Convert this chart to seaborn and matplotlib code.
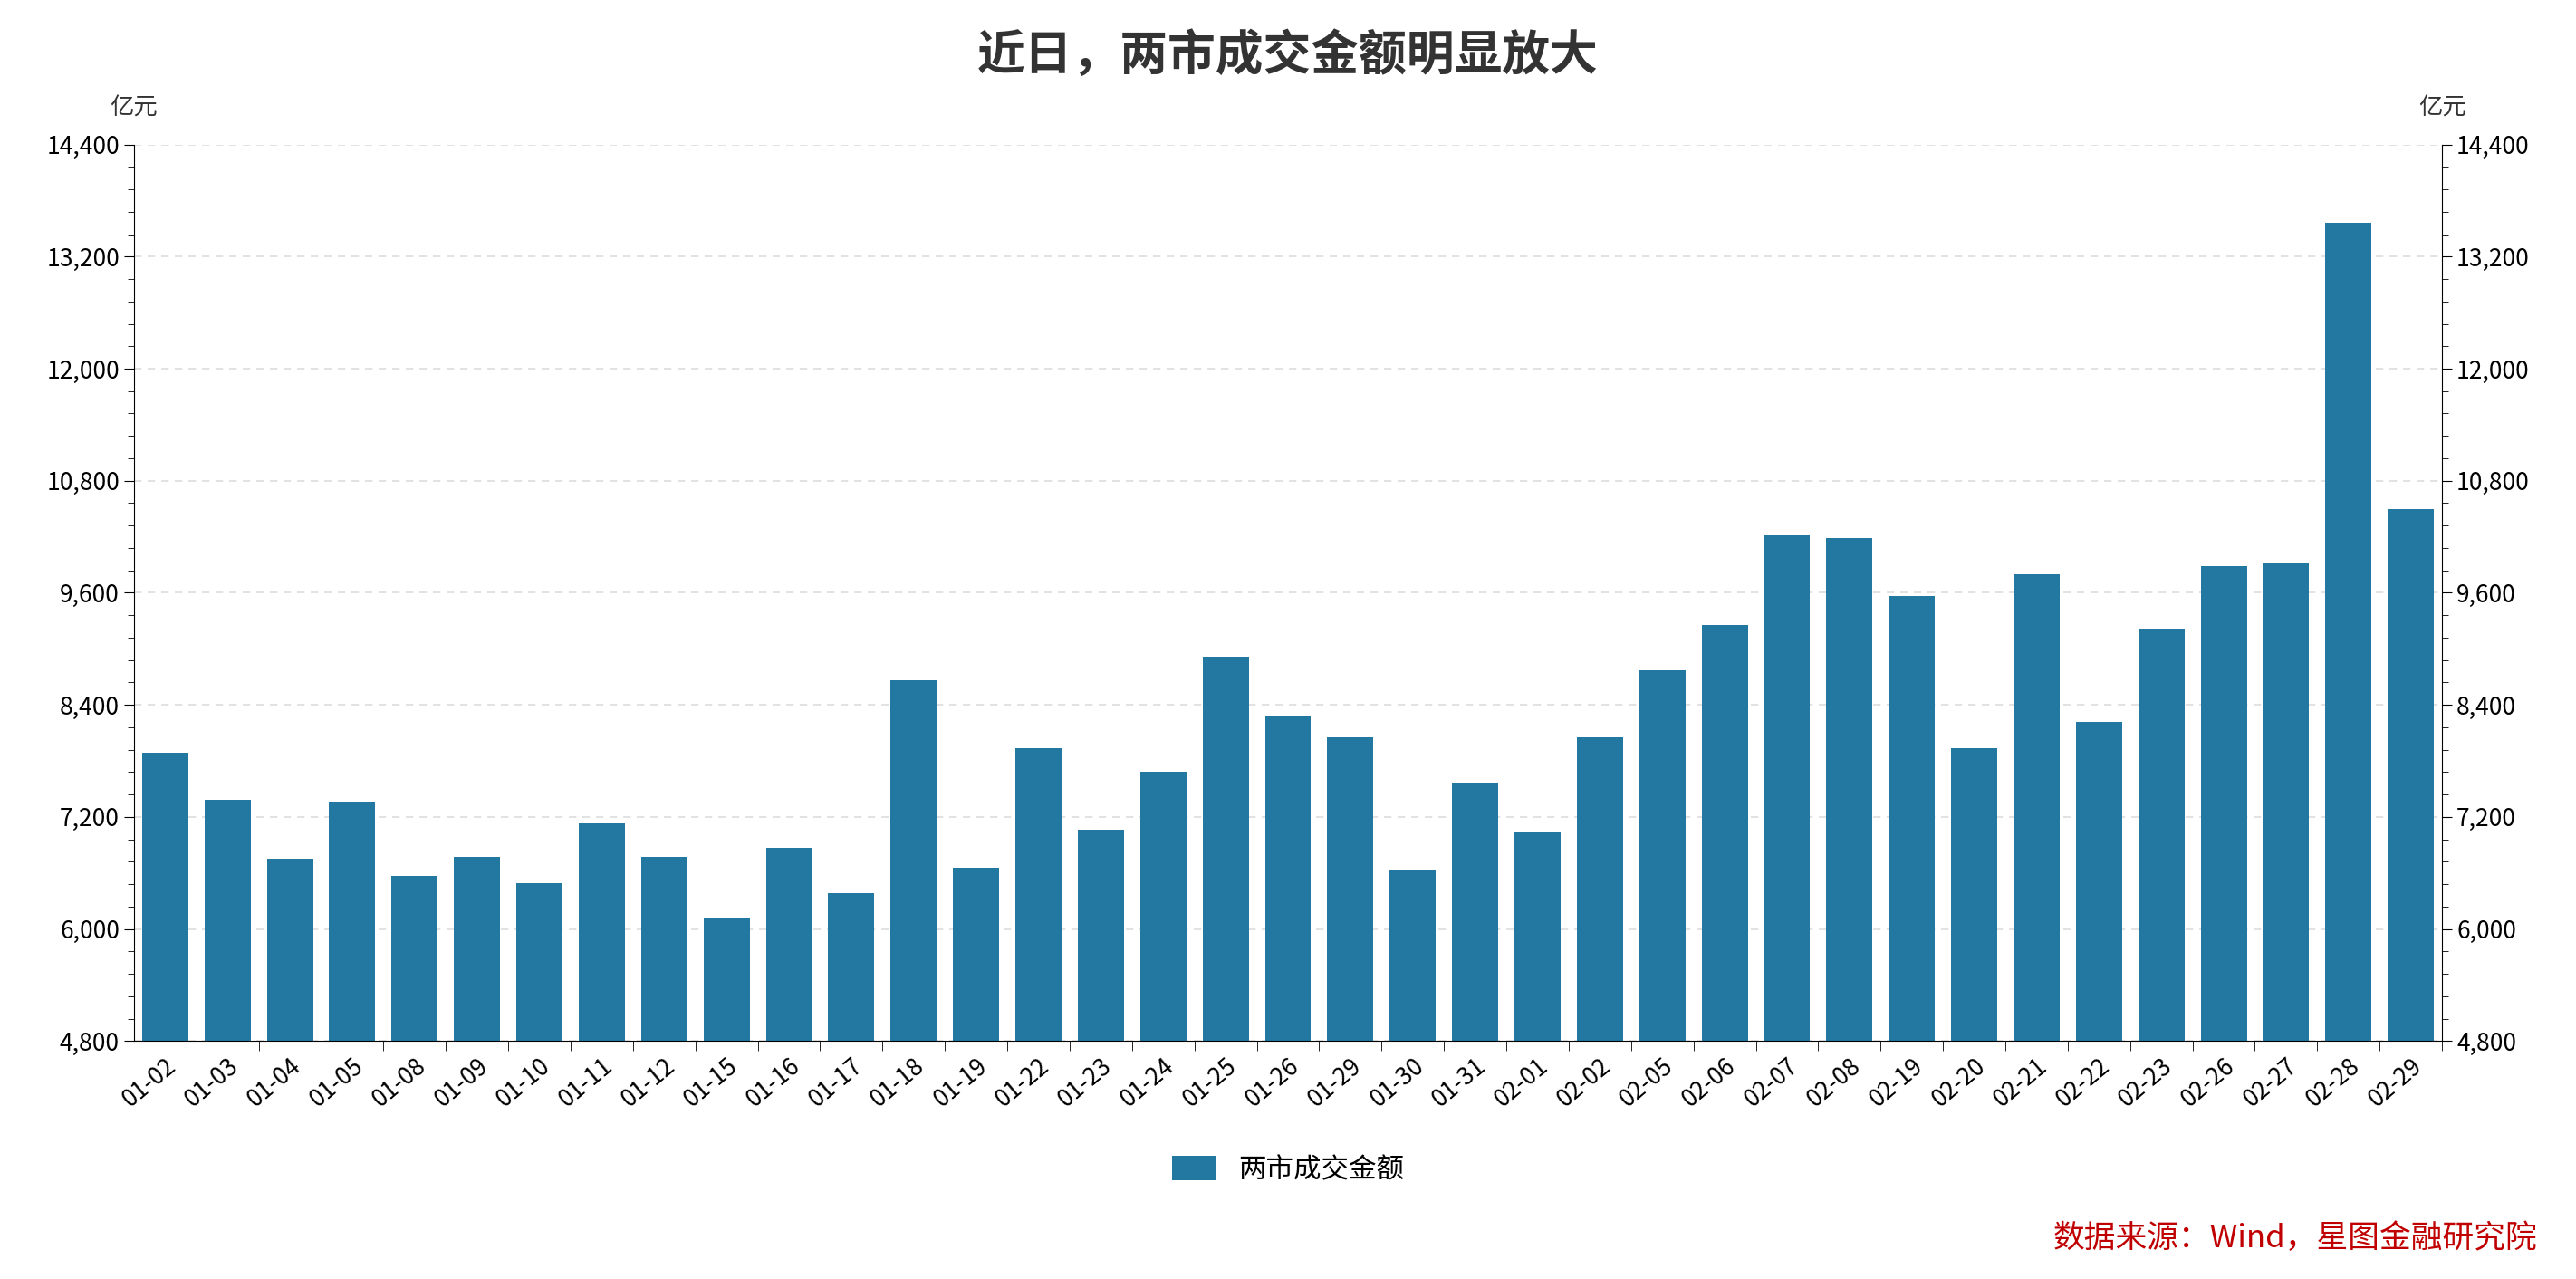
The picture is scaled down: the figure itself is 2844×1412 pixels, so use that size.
import matplotlib
matplotlib.use("Agg")
import matplotlib.pyplot as plt
from matplotlib.ticker import MultipleLocator, FuncFormatter
import seaborn as sns
import pandas as pd

plt.rcParams["font.family"] = ["Noto Sans CJK SC", "DejaVu Sans"]

dates = ["01-02", "01-03", "01-04", "01-05", "01-08", "01-09", "01-10", "01-11", "01-12",
         "01-15", "01-16", "01-17", "01-18", "01-19", "01-22", "01-23", "01-24", "01-25",
         "01-26", "01-29", "01-30", "01-31", "02-01", "02-02", "02-05", "02-06", "02-07",
         "02-08", "02-19", "02-20", "02-21", "02-22", "02-23", "02-26", "02-27", "02-28", "02-29"]
turnover = [7890, 7380, 6750, 7360, 6570, 6770, 6490, 7130, 6770,
            6120, 6870, 6380, 8660, 6660, 7940, 7060, 7680, 8920,
            8290, 8050, 6640, 7570, 7030, 8050, 8770, 9260, 10220,
            10190, 9570, 7940, 9800, 8220, 9220, 9890, 9920, 13560, 10500]
series_name = "两市成交金额"

df = pd.DataFrame({"date": dates, "value": turnover})
color = "#2278a0"

fig = plt.figure(figsize=(28.44, 14.12), dpi=100)
ax = fig.add_axes([0.052, 0.186, 0.896, 0.701])
sns.barplot(data=df, x="date", y="value", color=color, saturation=1, width=0.74,
            ax=ax, label=series_name)

ax.set_ylim(4800, 14400)
ax.set_xlim(-0.5, len(dates) - 0.5)
ax.yaxis.set_major_locator(MultipleLocator(1200))
ax.yaxis.set_minor_locator(MultipleLocator(240))
fmt = FuncFormatter(lambda v, p: f"{int(v):,}")
ax.yaxis.set_major_formatter(fmt)
ax.grid(axis="y", linestyle=(0, (5, 4)), color="#dddddd", linewidth=1.2)
ax.set_axisbelow(True)
for s in ["top", "right"]:
    ax.spines[s].set_visible(False)
ax.set_xlabel("")
ax.set_ylabel("")
ax.set_xticks([i + 0.5 for i in range(len(dates))], minor=True)
ax.set_xticks(range(len(dates)))
ax.set_xticklabels(dates, rotation=40, ha="right", rotation_mode="anchor", fontsize=19)
ax.tick_params(axis="x", which="major", length=0, pad=10)
ax.tick_params(axis="x", which="minor", length=8)
ax.tick_params(axis="y", which="major", labelsize=19, length=8)
ax.tick_params(axis="y", which="minor", length=5)

ax2 = ax.twinx()
ax2.set_ylim(4800, 14400)
ax2.yaxis.set_major_locator(MultipleLocator(1200))
ax2.yaxis.set_minor_locator(MultipleLocator(240))
ax2.yaxis.set_major_formatter(fmt)
ax2.tick_params(axis="y", which="major", labelsize=19, length=8)
ax2.tick_params(axis="y", which="minor", length=5)
for s in ["top", "left", "bottom"]:
    ax2.spines[s].set_visible(False)

fig.text(0.052, 0.91, "亿元", ha="center", fontsize=19, color="#333333")
fig.text(0.948, 0.91, "亿元", ha="center", fontsize=19, color="#333333")
fig.suptitle("近日，两市成交金额明显放大", y=0.975, fontsize=38, fontweight="bold", color="#333333")

ax.legend(loc="upper center", bbox_to_anchor=(0.5, -0.1), frameon=False, fontsize=22,
          handlelength=1.6, handleheight=1.0)
fig.text(0.985, 0.025, "数据来源：Wind，星图金融研究院", ha="right", fontsize=25,
         color="#c00000", style="italic")

fig.savefig("out.png", dpi=100)
